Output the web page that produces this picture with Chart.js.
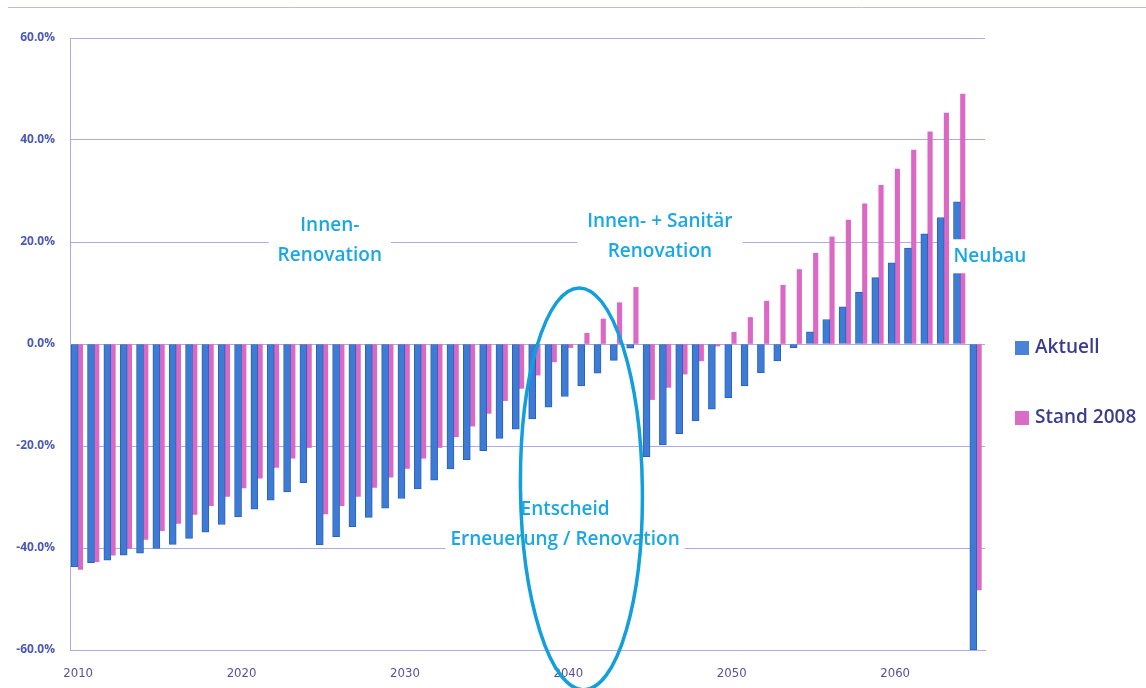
<!DOCTYPE html>
<html>
<head>
<meta charset="utf-8">
<script src="https://cdn.jsdelivr.net/npm/chart.js@4.4.1/dist/chart.umd.min.js"></script>
<style>
  body { margin: 0; background: #fff; }
  canvas { display: block; }
</style>
</head>
<body>
<canvas id="myChart" width="1146" height="688"></canvas>
<script>
// categories
const years = [2010, 2011, 2012, 2013, 2014, 2015, 2016, 2017, 2018, 2019,
               2020, 2021, 2022, 2023, 2024, 2025, 2026, 2027, 2028, 2029,
               2030, 2031, 2032, 2033, 2034, 2035, 2036, 2037, 2038, 2039,
               2040, 2041, 2042, 2043, 2044, 2045, 2046, 2047, 2048, 2049,
               2050, 2051, 2052, 2053, 2054, 2055, 2056, 2057, 2058, 2059,
               2060, 2061, 2062, 2063, 2064, 2065];

// series (percent)
const aktuell = [-43.7, -42.9, -42.4, -41.4, -41.0, -40.1, -39.3, -38.1, -36.9, -35.4,
                 -33.9, -32.4, -30.6, -29.0, -27.2, -39.4, -37.8, -35.8, -34.0, -32.2,
                 -30.3, -28.4, -26.7, -24.5, -22.7, -20.9, -18.5, -16.7, -14.7, -12.4,
                 -10.3, -8.2, -5.7, -3.2, -0.8, -22.1, -19.8, -17.6, -15.1, -12.8,
                 -10.5, -8.2, -5.6, -3.3, -0.7, 2.4, 4.8, 7.3, 10.2, 13.0,
                 15.9, 18.8, 21.6, 24.8, 27.9, -60.0];

const stand2008 = [-44.2, -42.7, -41.4, -40.1, -38.3, -36.6, -35.2, -33.4, -31.7, -29.9,
                   -28.2, -26.3, -24.2, -22.4, -20.3, -33.3, -31.7, -29.9, -28.1, -26.1,
                   -24.4, -22.4, -20.3, -18.2, -16.1, -13.6, -11.1, -8.7, -6.1, -3.5,
                   -0.7, 2.1, 4.9, 8.1, 11.1, -10.9, -8.5, -5.9, -3.3, -0.4,
                   2.3, 5.2, 8.4, 11.5, 14.6, 17.8, 21.0, 24.3, 27.5, 31.1,
                   34.3, 38.0, 41.6, 45.3, 49.0, -48.2];

const seriesNames = ['Aktuell', 'Stand 2008'];
const labeledYears = [2010, 2020, 2030, 2040, 2050, 2060];
const yMin = -60, yMax = 60, yStep = 20;

const gridColor = '#aeaae6';
const noteColor = '#1aa7e4';
const noteFont = '600 19px "Open Sans", sans-serif';

/* text notes, ellipse, legend, top rule */
const extras = {
  id: 'extras',
  afterDatasetsDraw(chart) {
    const ctx = chart.ctx, xs = chart.scales.x, ys = chart.scales.y;
    ctx.save();
    ctx.font = noteFont;
    ctx.textAlign = 'center';
    ctx.textBaseline = 'middle';

    function note(lines, idx, val, pad) {
      const cx = xs.getPixelForValue(idx);
      const cy = ys.getPixelForValue(val);
      let w = 0;
      lines.forEach(l => { w = Math.max(w, ctx.measureText(l).width); });
      const h = lines.length * 30;
      ctx.fillStyle = '#fff';
      ctx.fillRect(cx - w / 2 - pad, cy - h / 2 - 2, w + pad * 2, h + 4);
      ctx.fillStyle = noteColor;
      lines.forEach((l, i) => {
        ctx.fillText(l, cx, cy - h / 2 + 15 + i * 30);
      });
    }
    note(['Innen-', 'Renovation'], 15.4, 20.3, 9);
    note(['Innen- + Sanitär', 'Renovation'], 35.6, 21.0, 10);
    note(['Neubau'], 55.8, 17.2, 4);
    note(['Entscheid', 'Erneuerung / Renovation'], 29.8, -35.5, 5);

    // ellipse
    const ex = xs.getPixelForValue(30.8);
    const ey = ys.getPixelForValue(-28.4);
    const ry = ys.getPixelForValue(-28.4 - 39.4) - ey;
    const rx = xs.getPixelForValue(30.8 + 3.73) - ex;
    ctx.beginPath();
    ctx.ellipse(ex, ey, rx, ry, -0.012, 0, Math.PI * 2);
    ctx.strokeStyle = '#129fdc';
    ctx.lineWidth = 3.5;
    ctx.stroke();
    ctx.restore();
  },
  afterDraw(chart) {
    const ctx = chart.ctx;
    ctx.save();
    // top rule
    ctx.strokeStyle = '#bdb8e8';
    ctx.lineWidth = 1;
    ctx.beginPath();
    ctx.moveTo(8, 7.5);
    ctx.lineTo(chart.width, 7.5);
    ctx.stroke();

    // legend
    const zero = chart.scales.y.getPixelForValue(0);
    ctx.font = '600 19px "Open Sans", sans-serif';
    ctx.textBaseline = 'middle';
    ctx.textAlign = 'left';
    chart.data.datasets.forEach((ds, i) => {
      const yy = zero + 4 + i * 70;
      ctx.fillStyle = ds.legendColor;
      ctx.fillRect(1015, yy - 7, 14, 14);
      ctx.fillStyle = '#3b3d8c';
      ctx.fillText(seriesNames[i], 1035, yy);
    });
    ctx.restore();
  }
};

function drawChart() {
  const ctx = document.getElementById('myChart').getContext('2d');
  new Chart(ctx, {
    type: 'bar',
    data: {
      labels: years,
      datasets: [{
        label: seriesNames[0],
        data: aktuell,
        backgroundColor: '#3d7bd4',
        borderColor: '#2c62b8',
        borderWidth: 1,
        borderSkipped: false,
        barThickness: 7,
        legendColor: '#4a82d8'
      }, {
        label: seriesNames[1],
        data: stand2008,
        backgroundColor: '#dc68c6',
        borderWidth: 0,
        barThickness: 4.5,
        legendColor: '#d86cc6'
      }]
    },
    options: {
      responsive: false,
      animation: false,
      devicePixelRatio: 1,
      layout: { padding: { top: 38, right: 161, left: 0, bottom: 0 } },
      plugins: {
        legend: { display: false },
        tooltip: { enabled: false }
      },
      scales: {
        x: {
          offset: true,
          grid: { display: false, drawTicks: false },
          border: { color: gridColor },
          ticks: {
            autoSkip: false,
            maxRotation: 0,
            padding: 16,
            color: '#5a4ea2',
            font: { family: '"Liberation Sans Narrow", "DejaVu Sans Condensed", sans-serif', size: 13 },
            callback: function(v, i) {
              return labeledYears.includes(years[i]) ? String(years[i]) : '';
            }
          },
          afterFit: function(scale) { scale.height = 38; }
        },
        y: {
          min: yMin,
          max: yMax,
          grid: { color: gridColor, drawTicks: false },
          border: { color: gridColor },
          ticks: {
            stepSize: yStep,
            padding: 15,
            color: '#4a58b8',
            font: { family: '"Open Sans", sans-serif', size: 12, weight: 'bold' },
            callback: function(v) { return v.toFixed(1) + '%'; }
          },
          afterFit: function(scale) { scale.width = 70; }
        }
      }
    },
    plugins: [extras]
  });
}

window.onload = function(){
  drawChart();
};
</script>
</body>
</html>
